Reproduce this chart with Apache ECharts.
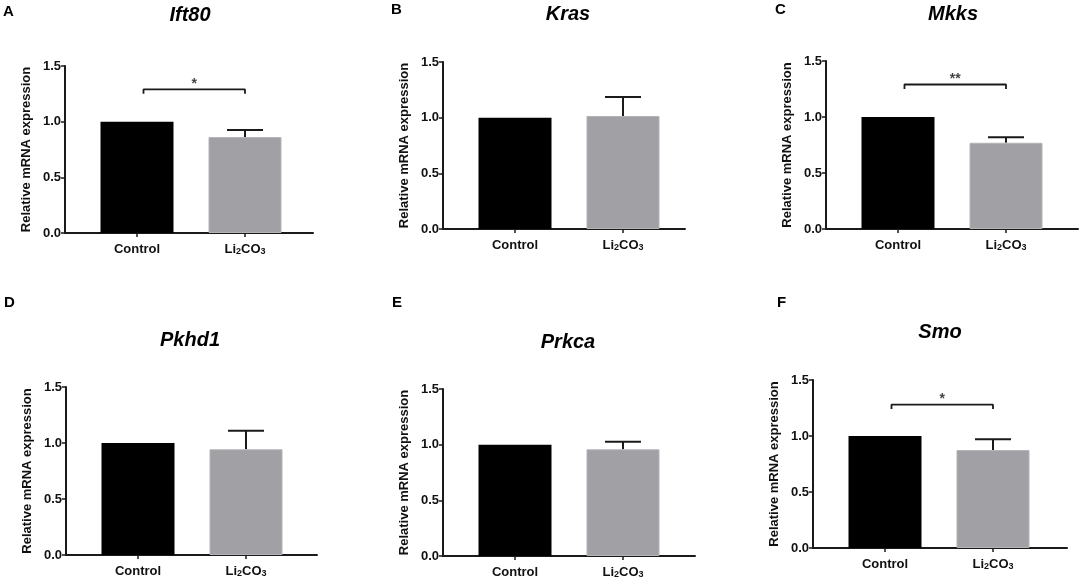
<!DOCTYPE html>
<html>
<head>
<meta charset="utf-8">
<script src="https://cdn.jsdelivr.net/npm/echarts@6/dist/echarts.min.js"></script>
<style>
  html, body { margin: 0; padding: 0; background: #fff; }
  #main { width: 1084px; height: 580px; }
</style>
</head>
<body>
<div id="main"></div>
<script>
// ---- data ----
var genes = ['Ift80', 'Kras', 'Mkks', 'Pkhd1', 'Prkca', 'Smo'];
var panelLetters = ['A', 'B', 'C', 'D', 'E', 'F'];
var groups = ['Control', 'Li2CO3'];
var controlMean = [1.0, 1.0, 1.0, 1.0, 1.0, 1.0];
var li2co3Mean = [0.862, 1.015, 0.77, 0.944, 0.958, 0.875];
var li2co3Sem = [0.063, 0.171, 0.05, 0.166, 0.069, 0.095];
var sigLabels = ['*', '', '**', '', '', '*'];
var sigHeights = [1.29, null, 1.29, null, null, 1.28];

// ---- panel layout (px) ----
var panels = [
  {left: 65,  top: 66,  width: 248, height: 167, tx: 190, ty: 16,  lx: 3,   ly: 12},
  {left: 443, top: 62,  width: 242, height: 167, tx: 568, ty: 15,  lx: 391, ly: 10},
  {left: 826, top: 61,  width: 252, height: 168, tx: 953, ty: 15,  lx: 775, ly: 10},
  {left: 66,  top: 387, width: 251, height: 168, tx: 190, ty: 341, lx: 4,   ly: 303},
  {left: 443, top: 389, width: 252, height: 167, tx: 568, ty: 343, lx: 392, ly: 303},
  {left: 813, top: 380, width: 254, height: 168, tx: 940, ty: 333, lx: 777, ly: 303}
];
var BAND = 108;     // px per group
var FIRST = 72;     // px from y axis to first group centre
var FONT = "'Liberation Sans', Arial, sans-serif";
var INK = '#1a1a1a';

// Li2CO3 -> rich text with subscripts
function groupLabel(name) {
  var parts = name.match(/\d+|\D+/g);
  return parts.map(function (p) {
    return /\d/.test(p) ? '{s|' + p + '}' : '{b|' + p + '}';
  }).join('');
}

var titles = [], grids = [], xAxes = [], yAxes = [], series = [];

genes.forEach(function (g, i) {
  var p = panels[i];
  titles.push({
    text: g, left: p.tx, top: p.ty - 11, textAlign: 'center', padding: 0,
    textStyle: {fontFamily: FONT, fontSize: 20, fontWeight: 'bold', fontStyle: 'italic', color: '#000'}
  });
  titles.push({
    text: panelLetters[i], left: p.lx, top: p.ly - 8, padding: 0,
    textStyle: {fontFamily: FONT, fontSize: 15, fontWeight: 'bold', color: '#000'}
  });
  grids.push({left: p.left, top: p.top, width: p.width, height: p.height});
  xAxes.push({
    gridIndex: i, type: 'value',
    min: -FIRST / BAND, max: (p.width - FIRST) / BAND,
    splitLine: {show: false},
    axisLine: {onZero: false, lineStyle: {color: INK, width: 2}},
    axisTick: {customValues: [0, 1], length: 4, lineStyle: {color: INK, width: 1.5}},
    axisLabel: {
      customValues: [0, 1], margin: 9,
      formatter: function (v) { return groupLabel(groups[Math.round(v)]); },
      rich: {
        b: {fontFamily: FONT, fontSize: 13, fontWeight: 'bold', color: '#111', lineHeight: 15},
        s: {fontFamily: FONT, fontSize: 9, fontWeight: 'bold', color: '#111', lineHeight: 15, verticalAlign: 'bottom', padding: [0, 0, 1, 0]}
      }
    }
  });
  yAxes.push({
    gridIndex: i, type: 'value', min: 0, max: 1.5, interval: 0.5,
    name: 'Relative mRNA expression', nameLocation: 'middle', nameGap: 32,
    nameTextStyle: {fontFamily: FONT, fontSize: 13, fontWeight: 'bold', color: '#111'},
    splitLine: {show: false},
    axisLine: {show: true, onZero: false, lineStyle: {color: INK, width: 2}},
    axisTick: {show: true, length: 4, lineStyle: {color: INK, width: 1.5}},
    axisLabel: {
      margin: 4, fontFamily: FONT, fontSize: 13, fontWeight: 'bold', color: '#111',
      formatter: function (v) { return v.toFixed(1); }
    }
  });

  // bars
  series.push({
    type: 'bar', xAxisIndex: i, yAxisIndex: i, barWidth: 73,
    data: [
      {value: [0, controlMean[i]], itemStyle: {color: '#000'}},
      {value: [1, li2co3Mean[i]], itemStyle: {color: '#a0a0a5', borderColor: '#b4b4b8', borderWidth: 1}}
    ],
    silent: true
  });

  // error bar (upper SEM only)
  series.push({
    type: 'custom', xAxisIndex: i, yAxisIndex: i, silent: true,
    data: [[1, li2co3Mean[i], li2co3Mean[i] + li2co3Sem[i]]],
    renderItem: function (params, api) {
      var a = api.coord([api.value(0), api.value(1)]);
      var b = api.coord([api.value(0), api.value(2)]);
      var st = {stroke: INK, lineWidth: 2};
      return {
        type: 'group',
        children: [
          {type: 'line', shape: {x1: a[0], y1: a[1], x2: b[0], y2: b[1]}, style: st},
          {type: 'line', shape: {x1: b[0] - 18, y1: b[1], x2: b[0] + 18, y2: b[1]}, style: st}
        ]
      };
    }
  });

  // significance bracket
  if (sigHeights[i] != null) {
    var h = sigHeights[i];
    series.push({
      type: 'line', xAxisIndex: i, yAxisIndex: i, silent: true,
      symbol: 'none', lineStyle: {color: INK, width: 1.8},
      data: [[0.06, h - 0.04], [0.06, h], [1.0, h], [1.0, h - 0.04]]
    });
    series.push({
      type: 'scatter', xAxisIndex: i, yAxisIndex: i, silent: true,
      symbolSize: 0, data: [[0.53, h]],
      label: {
        show: true, position: 'top', distance: -2,
        formatter: sigLabels[i],
        fontFamily: FONT, fontSize: 14, fontWeight: 'bold', color: '#111'
      }
    });
  }
});

var myChart = echarts.init(document.getElementById('main'));
myChart.setOption({
  animation: false,
  backgroundColor: '#fff',
  title: titles,
  grid: grids,
  xAxis: xAxes,
  yAxis: yAxes,
  series: series
});
</script>
</body>
</html>
